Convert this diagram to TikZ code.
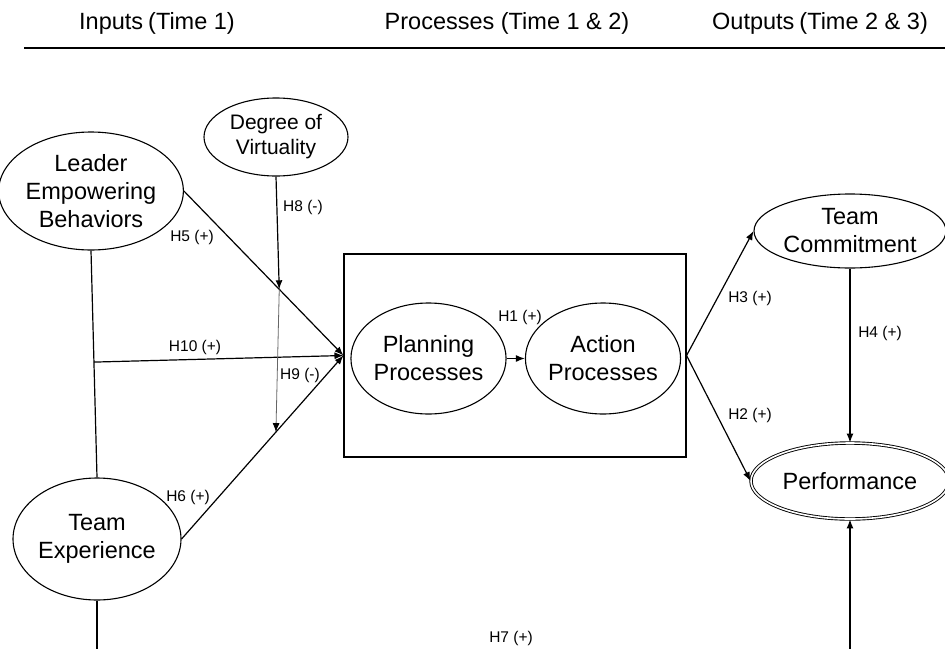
\documentclass[tikz,border=0pt]{standalone}
\usepackage{fontspec}
\setmainfont{Liberation Sans}
\usetikzlibrary{shapes.geometric,arrows.meta,calc}
\begin{document}
\begin{tikzpicture}[x=1pt,y=-1pt,
  every node/.style={inner sep=0pt},
  construct/.style={draw, ellipse, line width=1.1pt, align=center,
    font=\fontsize{23.5}{28}\selectfont},
  hyp/.style={font=\fontsize{15.5}{18}\selectfont},
  head/.style={font=\fontsize{23.5}{28}\selectfont},
  link/.style={line width=1.2pt},
  tip/.style={-{Latex[length=9pt,width=7pt,color=black]}},
  arr/.style={link, tip},
]
\useasboundingbox (0,0) rectangle (945,648);

% column headings and rule
\node[head] (hin) at (157,23) {Inputs\hspace{5pt}(Time 1)};
\node[head] (hpr) at (507,23) {Processes (Time 1 \& 2)};
\node[head] (hout) at (820,23) {Outputs\hspace{5pt}(Time 2 \& 3)};
\coordinate (ruleL) at (24,48);
\coordinate (ruleR) at (945,48);
\draw[line width=2.6pt] (ruleL) -- (ruleR);

% constructs
\node[construct, minimum width=168pt, minimum height=118pt] (leb) at (91,191) {Leader\\Empowering\\Behaviors};
\node[construct, minimum width=144pt, minimum height=78pt, font=\fontsize{21}{25}\selectfont] (dv) at (276,137) {Degree of\\Virtuality};
\node[construct, minimum width=168pt, minimum height=122pt] (te) at (97,539) {Team\\Experience};
\node[draw, line width=1.1pt, minimum width=342pt, minimum height=203pt] (box) at (515,355.5) {};
\node[construct, minimum width=151pt, minimum height=111pt] (pp) at (428.5,358.5) {Planning\\Processes};
\node[construct, minimum width=150pt, minimum height=111pt] (ap) at (603,358.5) {Action\\Processes};
\node[construct, minimum width=192pt, minimum height=74pt] (tc) at (850,231) {Team\\Commitment};
\node[construct, double, double distance=1.6pt, line width=0.9pt, minimum width=198pt, minimum height=76pt] (perf) at (850,481) {Performance};

% helper points
\coordinate (j5) at ($(leb.east)!0.5976!(box.west)$);
\coordinate (j6) at ($(te.east)!0.5828!(box.west)$);
\coordinate (h10) at ($(leb.south)!(box.west)!(te.north)$);
\coordinate (floor) at (0,652);

% paths
\draw[link] (leb.south) -- (te.north);
\draw[link] (te.south) -- (te.south |- floor);
\draw[arr] (leb.east) -- (box.west);
\draw[arr] (te.east) -- (box.west);
\draw[arr] (h10) -- (box.west);
\draw[arr] (dv.south) -- (j5);
\draw[line width=0.8pt, black!60, tip] (j5) -- (j6);
\draw[arr] (pp.east) -- (ap.west);
\draw[arr] (box.east) -- (tc.west);
\draw[arr] (box.east) -- (perf.west);
\draw[arr] (tc.south) -- (perf.north);
\draw[arr] (perf.south |- floor) -- (perf.south);

% hypothesis labels
\node[hyp] (l5) at (192,237) {H5 (+)};
\node[hyp] (l8) at (303,207) {H8 (-)};
\node[hyp] (l10) at (195,347) {H10 (+)};
\node[hyp] (l9) at (300,375) {H9 (-)};
\node[hyp] (l6) at (188,497) {H6 (+)};
\node[hyp] (l1) at (520,317) {H1 (+)};
\node[hyp] (l3) at (750,298) {H3 (+)};
\node[hyp] (l2) at (750,415) {H2 (+)};
\node[hyp] (l4) at (880,333) {H4 (+)};
\node[hyp] (l7) at (511,638) {H7 (+)};
\end{tikzpicture}
\end{document}
